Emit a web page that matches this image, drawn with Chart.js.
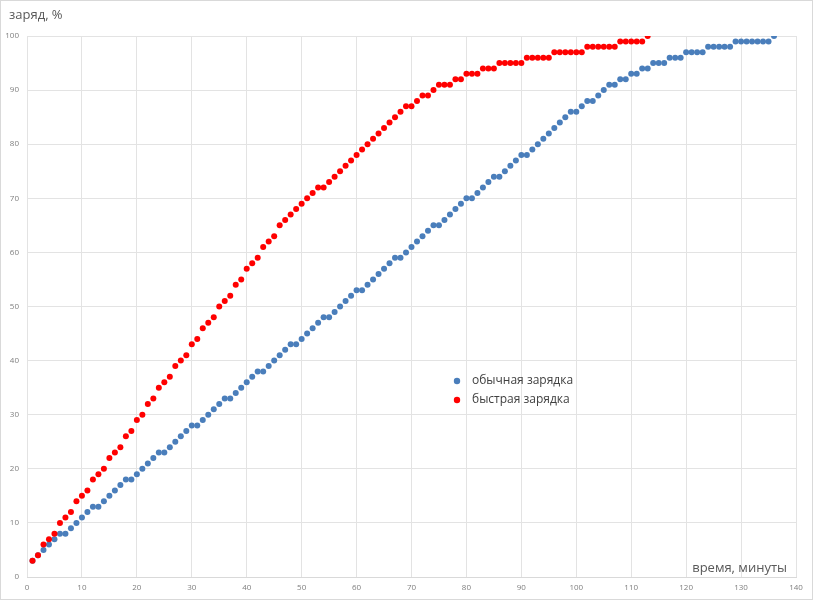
<!DOCTYPE html>
<html>
<head>
<meta charset="utf-8">
<script src="https://cdn.jsdelivr.net/npm/chart.js@4.4.1/dist/chart.umd.min.js"></script>
<style>
  html, body { margin: 0; padding: 0; background: #fff; }
  #wrap { width: 813px; height: 600px; position: relative; }
</style>
</head>
<body>
<div id="wrap"><canvas id="c" width="813" height="600"></canvas></div>
<script>
// ---- data ----
const minutesRegular = [
  1,2,3,4,5,6,7,8,9,10,
  11,12,13,14,15,16,17,18,19,20,
  21,22,23,24,25,26,27,28,29,30,
  31,32,33,34,35,36,37,38,39,40,
  41,42,43,44,45,46,47,48,49,50,
  51,52,53,54,55,56,57,58,59,60,
  61,62,63,64,65,66,67,68,69,70,
  71,72,73,74,75,76,77,78,79,80,
  81,82,83,84,85,86,87,88,89,90,
  91,92,93,94,95,96,97,98,99,100,
  101,102,103,104,105,106,107,108,109,110,
  111,112,113,114,115,116,117,118,119,120,
  121,122,123,124,125,126,127,128,129,130,
  131,132,133,134,135,136
];
const chargeRegular = [
  3,4,5,6,7,8,8,9,10,11,
  12,13,13,14,15,16,17,18,18,19,
  20,21,22,23,23,24,25,26,27,28,
  28,29,30,31,32,33,33,34,35,36,
  37,38,38,39,40,41,42,43,43,44,
  45,46,47,48,48,49,50,51,52,53,
  53,54,55,56,57,58,59,59,60,61,
  62,63,64,65,65,66,67,68,69,70,
  70,71,72,73,74,74,75,76,77,78,
  78,79,80,81,82,83,84,85,86,86,
  87,88,88,89,90,91,91,92,92,93,
  93,94,94,95,95,95,96,96,96,97,
  97,97,97,98,98,98,98,98,99,99,
  99,99,99,99,99,100
];
const minutesFast = [
  1,2,3,4,5,6,7,8,9,10,
  11,12,13,14,15,16,17,18,19,20,
  21,22,23,24,25,26,27,28,29,30,
  31,32,33,34,35,36,37,38,39,40,
  41,42,43,44,45,46,47,48,49,50,
  51,52,53,54,55,56,57,58,59,60,
  61,62,63,64,65,66,67,68,69,70,
  71,72,73,74,75,76,77,78,79,80,
  81,82,83,84,85,86,87,88,89,90,
  91,92,93,94,95,96,97,98,99,100,
  101,102,103,104,105,106,107,108,109,110,
  111,112,113
];
const chargeFast = [
  3,4,6,7,8,10,11,12,14,15,
  16,18,19,20,22,23,24,26,27,29,
  30,32,33,35,36,37,39,40,41,43,
  44,46,47,48,50,51,52,54,55,57,
  58,59,61,62,63,65,66,67,68,69,
  70,71,72,72,73,74,75,76,77,78,
  79,80,81,82,83,84,85,86,87,87,
  88,89,89,90,91,91,91,92,92,93,
  93,93,94,94,94,95,95,95,95,95,
  96,96,96,96,96,97,97,97,97,97,
  97,98,98,98,98,98,98,99,99,99,
  99,99,100
];
const seriesNames = ["обычная зарядка", "быстрая зарядка"];
const seriesColors = ["#4a7ebb", "#ff0000"];
const yTitle = "заряд, %";
const xTitle = "время, минуты";

const pairs = (xs, ys) => ys.map((v, i) => ({ x: xs[i], y: v }));

const FONT = '"Open Sans", "DejaVu Sans", sans-serif';

const decor = {
  id: 'decor',
  beforeDraw(chart) {
    const ctx = chart.ctx;
    ctx.save();
    ctx.fillStyle = '#fff';
    ctx.fillRect(0, 0, chart.width, chart.height);
    ctx.restore();
  },
  afterDraw(chart) {
    const ctx = chart.ctx;
    ctx.save();
    // outer frame
    ctx.strokeStyle = '#d9d9d9';
    ctx.lineWidth = 1;
    ctx.strokeRect(0.5, 0.5, chart.width - 1, chart.height - 1);
    // axis titles
    ctx.fillStyle = '#595959';
    ctx.font = '13px ' + FONT;
    ctx.textBaseline = 'middle';
    ctx.textAlign = 'left';
    ctx.fillText(yTitle, 9, 15);
    ctx.textAlign = 'right';
    ctx.fillText(xTitle, 787, 568);
    // legend
    const ds = chart.data.datasets;
    ctx.font = '12px ' + FONT;
    ctx.textAlign = 'left';
    ds.forEach((d, i) => {
      const cy = 381 + i * 19;
      ctx.beginPath();
      ctx.arc(457, cy, 3.2, 0, Math.PI * 2);
      ctx.fillStyle = d.backgroundColor;
      ctx.fill();
      ctx.fillStyle = '#404040';
      ctx.fillText(d.label, 472, cy);
    });
    ctx.restore();
  }
};

new Chart(document.getElementById('c'), {
  type: 'scatter',
  data: {
    datasets: [
      {
        label: seriesNames[0],
        data: pairs(minutesRegular, chargeRegular),
        backgroundColor: seriesColors[0],
        borderColor: seriesColors[0],
        pointRadius: 3,
        pointBorderWidth: 0,
        pointHoverRadius: 3,
        order: 1
      },
      {
        label: seriesNames[1],
        data: pairs(minutesFast, chargeFast),
        backgroundColor: seriesColors[1],
        borderColor: seriesColors[1],
        pointRadius: 3,
        pointBorderWidth: 0,
        pointHoverRadius: 3,
        order: 0
      }
    ]
  },
  options: {
    responsive: false,
    animation: false,
    events: [],
    layout: { padding: { left: 0, top: 36, right: 17, bottom: 0 } },
    plugins: {
      legend: { display: false },
      title: { display: false },
      tooltip: { enabled: false }
    },
    scales: {
      x: {
        type: 'linear',
        min: 0, max: 140,
        afterFit(s) { s.height = 23; },
        grid: { color: '#e3e3e3', drawTicks: false, lineWidth: 1 },
        border: { color: '#d9d9d9' },
        ticks: { stepSize: 10, padding: 6, color: '#7f7f7f', font: { size: 8, family: FONT } }
      },
      y: {
        type: 'linear',
        min: 0, max: 100,
        afterFit(s) { s.width = 27; },
        grid: { color: '#e3e3e3', drawTicks: false, lineWidth: 1 },
        border: { display: false },
        ticks: { stepSize: 10, padding: 8, color: '#7f7f7f', font: { size: 8, family: FONT } }
      }
    }
  },
  plugins: [decor]
});
</script>
</body>
</html>
